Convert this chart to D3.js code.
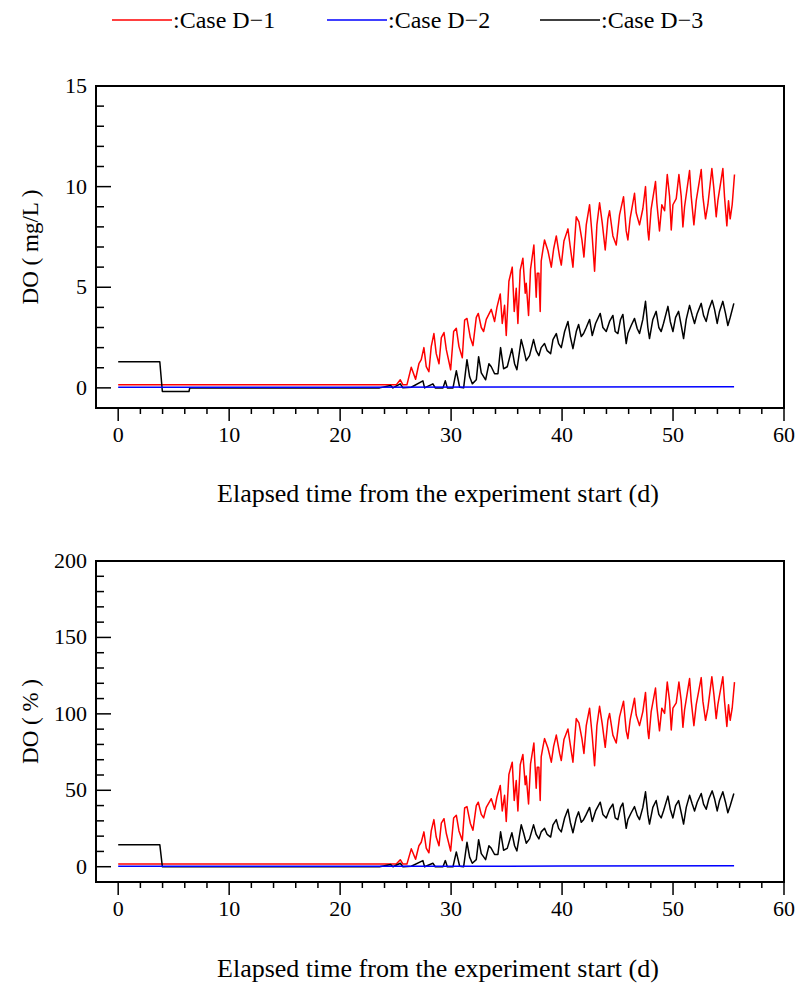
<!DOCTYPE html>
<html>
<head>
<meta charset="utf-8">
<title>DO cases</title>
<script src="https://d3js.org/d3.v7.min.js"></script>
<style>
  body { margin: 0; background: #fff; }
  svg text { font-family: "Liberation Serif", "Times New Roman", serif; fill: #000; }
</style>
</head>
<body>
<svg id="chart" width="800" height="987"></svg>
<script>
// ---- data ----
const seriesNames = ["Case D\u22121", "Case D\u22122", "Case D\u22123"];
const seriesColors = ["#ff0000", "#0000ff", "#000000"];

const xTicks = [0, 10, 20, 30, 40, 50, 60];
const mgTicks = [0, 5, 10, 15];
const pctTicks = [0, 50, 100, 150, 200];

// Case D-1 (red)
const d1Day = [
  0, 25.06, 25.42, 25.66, 26.02, 26.41, 26.80, 27.10, 27.31, 27.55,
  27.76, 28.00, 28.21, 28.45, 28.66, 28.91, 29.12, 29.36, 29.57, 29.96,
  30.23, 30.47, 30.71, 31.01, 31.22, 31.43, 31.73, 31.97, 32.27, 32.45,
  32.72, 32.93, 33.17, 33.62, 33.92, 34.13, 34.43, 34.61, 34.82, 34.97,
  35.21, 35.51, 35.69, 35.87, 36.02, 36.23, 36.47, 36.68, 36.77, 36.98,
  37.16, 37.46, 37.67, 37.76, 37.91, 38.03, 38.12, 38.27, 38.42, 38.73,
  39.03, 39.24, 39.48, 39.78, 39.93, 40.17, 40.53, 40.74, 40.98, 41.28,
  41.52, 41.79, 41.97, 42.18, 42.48, 42.72, 42.93, 43.14, 43.38, 43.62,
  43.89, 44.13, 44.28, 44.58, 44.88, 45.18, 45.54, 45.78, 45.93, 46.14,
  46.53, 46.68, 46.98, 47.28, 47.52, 47.73, 47.82, 48.03, 48.42, 48.54,
  48.78, 48.99, 49.24, 49.48, 49.69, 49.84, 49.99, 50.29, 50.53, 50.74,
  50.89, 51.04, 51.49, 51.64, 51.88, 52.09, 52.54, 52.69, 52.93, 53.14,
  53.50, 53.68, 53.89, 54.04, 54.49, 54.64, 54.85, 55.00, 55.15, 55.33, 55.54
];
const d1Mg = [
  0.15, 0.15, 0.40, 0.15, 0.15, 1.03, 0.43, 1.20, 1.40, 2.00,
  1.06, 0.80, 2.05, 2.70, 1.70, 1.20, 2.50, 2.75, 1.90, 0.90,
  2.80, 2.96, 2.05, 1.50, 3.37, 3.45, 2.50, 2.10, 3.50, 3.70,
  3.00, 2.80, 3.40, 3.90, 3.30, 4.00, 4.67, 3.20, 4.10, 2.60,
  5.30, 6.00, 3.80, 4.95, 3.20, 5.85, 6.44, 4.70, 5.20, 3.60,
  5.90, 7.10, 4.50, 5.70, 5.70, 3.80, 6.30, 6.85, 7.35, 6.80,
  6.00, 6.90, 7.55, 6.50, 6.10, 7.30, 7.90, 7.00, 6.00, 8.50,
  8.25, 7.35, 6.50, 8.10, 9.10, 7.50, 5.80, 8.10, 9.20, 8.20,
  6.85, 8.40, 8.80, 7.55, 7.10, 8.60, 9.50, 7.80, 7.35, 8.44,
  9.67, 8.70, 8.10, 8.90, 10.00, 7.80, 7.35, 8.90, 10.25, 9.20,
  7.80, 9.10, 8.80, 10.60, 9.50, 7.85, 9.10, 9.40, 10.60, 9.50,
  8.00, 9.00, 10.80, 9.50, 8.10, 9.30, 10.85, 9.50, 8.40, 9.10,
  10.90, 9.90, 8.50, 9.30, 10.90, 9.50, 8.05, 9.30, 8.40, 9.10, 10.60
];
const d1Pct = [
  1.7, 1.7, 4.6, 1.7, 1.7, 11.7, 4.9, 13.7, 16.0, 22.8,
  12.1, 9.1, 23.4, 30.8, 19.4, 13.7, 28.5, 31.4, 21.7, 10.3,
  31.9, 33.7, 23.4, 17.1, 38.4, 39.3, 28.5, 23.9, 39.9, 42.2,
  34.2, 31.9, 38.8, 44.5, 37.6, 45.6, 53.2, 36.5, 46.7, 29.6,
  60.4, 68.4, 43.3, 56.4, 36.5, 66.7, 73.4, 53.6, 59.3, 41.0,
  67.3, 80.9, 51.3, 65.0, 65.0, 43.3, 71.8, 78.1, 83.8, 77.5,
  68.4, 78.7, 86.1, 74.1, 69.5, 83.2, 90.1, 79.8, 68.4, 96.9,
  94.1, 83.8, 74.1, 92.3, 103.7, 85.5, 66.1, 92.3, 104.9, 93.5,
  78.1, 95.8, 100.3, 86.1, 80.9, 98.0, 108.3, 88.9, 83.8, 96.2,
  110.2, 99.2, 92.3, 101.5, 114.0, 88.9, 83.8, 101.5, 116.9, 104.9,
  88.9, 103.7, 100.3, 120.8, 108.3, 89.5, 103.7, 107.2, 120.8, 108.3,
  91.2, 102.6, 123.1, 108.3, 92.3, 106.0, 123.7, 108.3, 95.8, 103.7,
  124.3, 112.9, 96.9, 106.0, 124.3, 108.3, 91.8, 106.0, 95.8, 103.7, 120.8
];

// Case D-2 (blue)
const d2Day = [0, 20, 40, 55.5];
const d2Mg = [0.03, 0.03, 0.04, 0.05];
const d2Pct = [0.3, 0.3, 0.4, 0.6];

// Case D-3 (black)
const d3Day = [
  0, 3.75, 3.98, 6.38, 6.45, 23.56, 24.55, 24.76, 25.42, 25.66,
  26.41, 27.46, 27.61, 28.36, 28.57, 29.27, 29.48, 29.66, 30.17, 30.47,
  30.77, 31.13, 31.43, 31.67, 31.91, 32.27, 32.48, 32.72, 33.11, 33.41,
  33.62, 33.92, 34.22, 34.46, 34.73, 35.06, 35.48, 35.72, 35.93, 36.32,
  36.53, 36.77, 37.07, 37.43, 37.67, 37.91, 38.12, 38.42, 38.66, 38.97,
  39.18, 39.48, 39.69, 39.93, 40.23, 40.53, 40.74, 40.98, 41.28, 41.49,
  41.73, 41.94, 42.18, 42.48, 42.72, 43.02, 43.44, 43.68, 43.98, 44.28,
  44.58, 44.79, 45.03, 45.27, 45.48, 45.78, 45.93, 46.23, 46.53, 46.77,
  46.98, 47.28, 47.52, 47.73, 47.88, 48.18, 48.48, 48.72, 48.93, 49.14,
  49.54, 49.75, 49.99, 50.23, 50.50, 50.74, 50.95, 51.19, 51.49, 51.73,
  51.94, 52.18, 52.54, 52.75, 52.99, 53.23, 53.53, 53.74, 53.98, 54.19,
  54.49, 54.73, 54.94, 55.15, 55.48
];
const d3Mg = [
  1.30, 1.30, -0.18, -0.18, 0.00, 0.00, 0.12, 0.00, 0.20, 0.00,
  0.03, 0.35, 0.00, 0.20, 0.00, 0.00, 0.35, 0.00, 0.00, 0.85,
  0.03, 0.00, 1.40, 0.55, 0.20, 0.40, 1.55, 0.75, 0.40, 1.20,
  1.05, 0.70, 0.70, 2.00, 0.95, 1.05, 1.95, 1.20, 0.90, 2.40,
  1.95, 1.35, 1.60, 2.40, 1.85, 1.60, 2.00, 2.20, 1.85, 1.70,
  2.40, 2.70, 2.20, 2.00, 2.80, 3.30, 2.55, 1.95, 2.80, 3.15,
  2.55, 2.70, 3.00, 3.40, 2.60, 3.20, 3.70, 3.00, 2.80, 3.30,
  3.60, 2.80, 2.70, 3.40, 3.65, 2.20, 2.70, 3.10, 3.45, 2.95,
  2.70, 3.40, 4.30, 3.00, 2.45, 3.40, 3.80, 3.00, 2.80, 3.20,
  4.05, 3.30, 2.80, 3.50, 3.80, 3.10, 2.45, 3.40, 4.10, 3.60,
  3.20, 3.70, 4.20, 3.60, 3.30, 3.90, 4.35, 3.90, 3.20, 3.80,
  4.30, 3.70, 3.10, 3.50, 4.20
];
const d3Pct = [
  14.4, 14.4, 0.0, 0.0, 0.0, 0.0, 1.4, 0.0, 2.3, 0.0,
  0.3, 4.0, 0.0, 2.3, 0.0, 0.0, 4.0, 0.0, 0.0, 9.7,
  0.3, 0.0, 16.0, 6.3, 2.3, 4.6, 17.7, 8.6, 4.6, 13.7,
  12.0, 8.0, 8.0, 22.8, 10.8, 12.0, 22.2, 13.7, 10.3, 27.4,
  22.2, 15.4, 18.2, 27.4, 21.1, 18.2, 22.8, 25.1, 21.1, 19.4,
  27.4, 30.8, 25.1, 22.8, 31.9, 37.6, 29.1, 22.2, 31.9, 35.9,
  29.1, 30.8, 34.2, 38.8, 29.6, 36.5, 42.2, 34.2, 31.9, 37.6,
  41.0, 31.9, 30.8, 38.8, 41.6, 25.1, 30.8, 35.3, 39.3, 33.6,
  30.8, 38.8, 49.0, 34.2, 27.9, 38.8, 43.3, 34.2, 31.9, 36.5,
  46.2, 37.6, 31.9, 39.9, 43.3, 35.3, 27.9, 38.8, 46.7, 41.0,
  36.5, 42.2, 47.9, 41.0, 37.6, 44.5, 49.6, 44.5, 36.5, 43.3,
  49.0, 42.2, 35.3, 39.9, 47.9
];

const svg = d3.select("#chart");

const x = d3.scaleLinear().domain([-2, 60]).range([96, 784]);

const panels = [
  {
    y: d3.scaleLinear().domain([-1, 15]).range([408, 86]),
    ticks: mgTicks, minorStep: 1,
    title: "DO ( mg/L )",
    series: [[d1Day, d1Mg], [d2Day, d2Mg], [d3Day, d3Mg]],
    xTitleY: 502
  },
  {
    y: d3.scaleLinear().domain([-10, 200]).range([882, 561]),
    ticks: pctTicks, minorStep: 10,
    title: "DO ( % )",
    series: [[d1Day, d1Pct], [d2Day, d2Pct], [d3Day, d3Pct]],
    xTitleY: 977
  }
];

function drawPanel(p) {
  const g = svg.append("g");
  const [y0, y1] = p.y.range();
  const [x0, x1] = x.range();

  // lines (red, black, blue on top)
  const line = d3.line().x(d => x(d[0])).y(d => p.y(d[1]));
  [0, 2, 1].forEach(i => {
    const [days, vals] = p.series[i];
    const pts = days.map((d, k) => [d, vals[k]]);
    g.append("path")
      .datum(pts)
      .attr("d", line)
      .attr("fill", "none")
      .attr("stroke", seriesColors[i])
      .attr("stroke-width", 1.5)
      .attr("stroke-linejoin", "round");
  });

  // x ticks (outward, below the frame)
  const minorX = d3.range(0, 61, 2).filter(v => v % 10 !== 0);
  g.selectAll(".xminor").data(minorX).enter().append("line")
    .attr("x1", d => x(d)).attr("x2", d => x(d))
    .attr("y1", y0).attr("y2", y0 + 6)
    .attr("stroke", "#000").attr("stroke-width", 1.5);
  g.selectAll(".xmajor").data(xTicks).enter().append("line")
    .attr("x1", d => x(d)).attr("x2", d => x(d))
    .attr("y1", y0).attr("y2", y0 + 13)
    .attr("stroke", "#000").attr("stroke-width", 1.5);
  g.selectAll(".xlab").data(xTicks).enter().append("text")
    .attr("x", d => x(d)).attr("y", y0 + 34)
    .attr("text-anchor", "middle")
    .style("font-size", "22px")
    .text(d => d);

  // y ticks (inward)
  const dom = p.y.domain();
  const minorY = d3.range(0, dom[1] + 0.001, p.minorStep).filter(v => !p.ticks.includes(v));
  g.selectAll(".yminor").data(minorY).enter().append("line")
    .attr("x1", x0).attr("x2", x0 + 8)
    .attr("y1", d => p.y(d)).attr("y2", d => p.y(d))
    .attr("stroke", "#000").attr("stroke-width", 1.5);
  g.selectAll(".ymajor").data(p.ticks).enter().append("line")
    .attr("x1", x0).attr("x2", x0 + 15)
    .attr("y1", d => p.y(d)).attr("y2", d => p.y(d))
    .attr("stroke", "#000").attr("stroke-width", 1.5);
  g.selectAll(".ylab").data(p.ticks).enter().append("text")
    .attr("x", x0 - 9).attr("y", d => p.y(d) + 7)
    .attr("text-anchor", "end")
    .style("font-size", "22px")
    .text(d => d);

  // frame
  g.append("rect")
    .attr("x", x0).attr("y", y1)
    .attr("width", x1 - x0).attr("height", y0 - y1)
    .attr("fill", "none").attr("stroke", "#000").attr("stroke-width", 2);

  // titles
  g.append("text")
    .attr("transform", `translate(38, ${(y0 + y1) / 2}) rotate(-90)`)
    .attr("text-anchor", "middle")
    .style("font-size", "23px")
    .text(p.title);
  g.append("text")
    .attr("x", (x0 + x1) / 2 - 2).attr("y", p.xTitleY)
    .attr("text-anchor", "middle")
    .style("font-size", "26px")
    .text("Elapsed time from the experiment start (d)");
}

panels.forEach(drawPanel);

// legend
const legendX = [112, 327, 540];
const legend = svg.append("g");
seriesNames.forEach((name, i) => {
  legend.append("line")
    .attr("x1", legendX[i]).attr("x2", legendX[i] + 60)
    .attr("y1", 20).attr("y2", 20)
    .attr("stroke", seriesColors[i]).attr("stroke-width", 1.5);
  legend.append("text")
    .attr("x", legendX[i] + 61).attr("y", 28)
    .style("font-size", "24px")
    .text(":" + name);
});
</script>
</body>
</html>
